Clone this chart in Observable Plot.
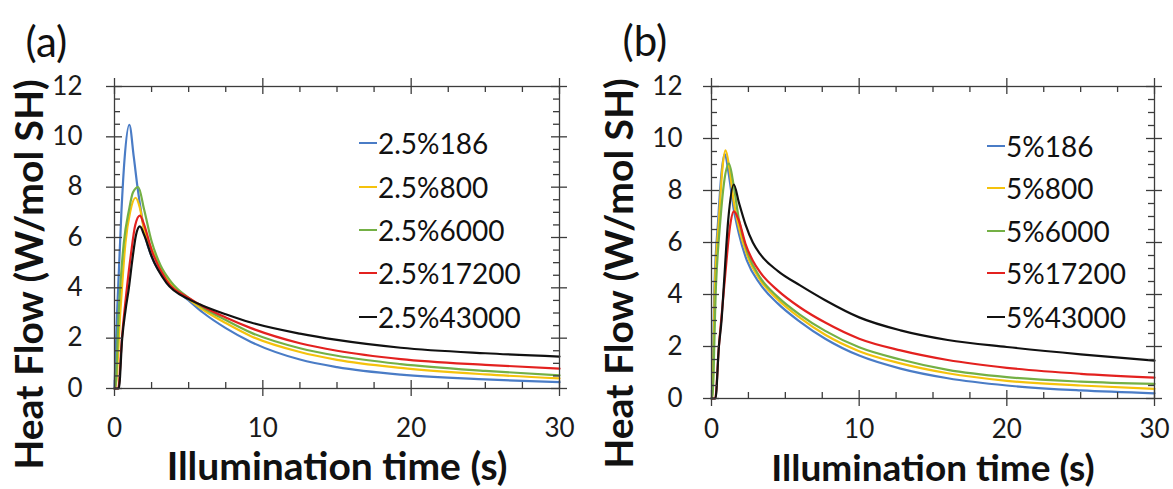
<!DOCTYPE html>
<html><head><meta charset="utf-8">
<script src="https://cdn.jsdelivr.net/npm/d3@7"></script>
<script src="https://cdn.jsdelivr.net/npm/@observablehq/plot@0.6"></script>
<style>
body{margin:0;background:#fff;}
#wrap{position:relative;width:1173px;height:489px;font-family:Lato,sans-serif;overflow:hidden;background:#fff}
.panel{position:absolute;top:0}
.row{position:absolute;white-space:nowrap;display:flex;align-items:center;font-size:28px;color:#111;line-height:28px;height:28px}
.sw{width:18px;height:2.2px;margin-right:1px}
</style></head><body><div id="wrap"></div>
<script>
// ---- data ----
const xMajor = [0, 10, 20, 30];
const xMinor = [2.5, 5, 7.5, 12.5, 15, 17.5, 22.5, 25, 27.5];
const yMajor = [0, 2, 4, 6, 8, 10, 12];
const yMinor = [0.5, 1, 1.5, 2.5, 3, 3.5, 4.5, 5, 5.5, 6.5, 7, 7.5, 8.5, 9, 9.5, 10.5, 11, 11.5];

const colors = ["#4a7cc6", "#f5c20c", "#74b045", "#e3211f", "#111111"];
const namesA = ["2.5%186", "2.5%800", "2.5%6000", "2.5%17200", "2.5%43000"];
const namesB = ["5%186", "5%800", "5%6000", "5%17200", "5%43000"];

// panel (a): [time s, heat flow]
const a186 = [[0,0],[0.18,3.1],[0.47,7.07],[0.67,9.06],[1.0,10.48],[1.3,9.2],[1.55,8.0],[1.8,7.0],[2.1,6.0],[2.5,5.25],[3.5,4.3],[5,3.5],[6,3.0],[7.5,2.4],[9.2,1.85],[12.5,1.15],[15,0.85],[19.3,0.55],[25,0.36],[30,0.25]];
const a800 = [[0,0],[0.05,0],[0.4,3.1],[0.74,5.8],[1.05,7.0],[1.42,7.58],[1.7,7.2],[2.0,6.3],[2.5,5.55],[3.5,4.4],[5,3.55],[6,3.12],[7.5,2.6],[9.2,2.08],[12.5,1.45],[15,1.14],[19.3,0.82],[25,0.56],[30,0.40]];
const a6000 = [[0,0],[0.05,0],[0.29,3.1],[0.63,5.8],[0.97,7.07],[1.25,7.8],[1.6,8.0],[2.0,7.1],[2.5,5.85],[3.1,4.9],[3.8,4.25],[5,3.6],[6,3.2],[7.5,2.72],[9.2,2.22],[12.5,1.6],[15,1.3],[19.3,0.97],[25,0.70],[30,0.52]];
const a17200 = [[0,0],[0.25,0],[0.5,2.0],[0.8,3.8],[1.1,5.3],[1.4,6.5],[1.71,6.87],[2.0,6.5],[2.5,5.5],[3.5,4.3],[5,3.6],[6,3.25],[7.5,2.82],[9.2,2.4],[12.5,1.8],[15,1.5],[19.3,1.17],[25,0.94],[30,0.79]];
const a43000 = [[0,0],[0.29,0],[0.52,2.0],[0.74,3.1],[0.97,4.0],[1.2,5.1],[1.45,6.1],[1.71,6.44],[2.0,6.1],[2.5,5.25],[3.5,4.2],[5,3.55],[6,3.28],[7.5,2.95],[9.2,2.62],[12.5,2.18],[15,1.93],[19.3,1.62],[25,1.40],[30,1.27]];

// panel (b)
const b186 = [[0,0],[0.03,0],[0.2,4.3],[0.45,6.85],[0.7,8.8],[0.9,9.4],[1.15,8.7],[1.5,7.3],[1.85,6.35],[2.4,5.3],[3.3,4.4],[4.5,3.65],[6,2.95],[7.7,2.3],[10,1.65],[12.8,1.15],[16,0.78],[20,0.5],[25,0.31],[30,0.2]];
const b800 = [[0,0],[0.05,0],[0.23,4.3],[0.5,6.85],[0.75,8.9],[0.95,9.54],[1.2,8.9],[1.5,7.6],[1.85,6.6],[2.42,5.5],[3.3,4.55],[4.5,3.8],[6,3.1],[7.7,2.45],[10,1.82],[12.8,1.35],[16,0.97],[20,0.68],[25,0.5],[30,0.37]];
const b6000 = [[0,0],[0.05,0],[0.3,4.3],[0.6,6.85],[0.85,8.3],[1.18,9.03],[1.5,8.2],[1.85,6.9],[2.42,5.65],[3.3,4.65],[4.5,3.9],[6,3.22],[7.7,2.6],[10,1.97],[12.8,1.5],[16,1.1],[20,0.82],[25,0.65],[30,0.56]];
const b17200 = [[0,0],[0.25,0],[0.5,2.0],[0.75,3.6],[1.0,5.2],[1.25,6.6],[1.51,7.2],[1.85,6.85],[2.3,5.95],[2.8,5.3],[3.3,4.85],[4.5,4.15],[6,3.5],[7.7,2.92],[10,2.3],[12.8,1.85],[16,1.48],[20,1.18],[25,0.95],[30,0.8]];
const b43000 = [[0,0],[0.27,0],[0.5,2.0],[0.68,3.0],[0.83,4.3],[1.13,6.85],[1.51,8.23],[1.85,7.55],[2.3,6.7],[2.8,6.0],[3.3,5.55],[4.5,4.9],[6,4.35],[7.7,3.78],[10,3.12],[12.8,2.62],[16,2.25],[20,1.98],[25,1.7],[30,1.46]];

const yTitle = "Heat Flow (W/mol SH)";
const xTitle = "Illumination time (s)";

// ---- drawing ----
function panel(cfg) {
  const pw = cfg.width - cfg.ml - cfg.mr, ph = cfg.height - cfg.mt - cfg.mb;
  const data = cfg.names.flatMap((n, i) => cfg.series[i].map(([t, v]) => ({name: n, t, v})));
  const ax = {stroke: "#3c3c3c", strokeWidth: 1.3};
  const tl = 6, tM = 8;
  return Plot.plot({
    width: cfg.width, height: cfg.height,
    marginLeft: cfg.ml, marginRight: cfg.mr, marginTop: cfg.mt, marginBottom: cfg.mb,
    style: {fontFamily: "Lato, sans-serif", color: "#1a1a1a", background: "white", overflow: "visible"},
    x: {domain: [0, 30]},
    y: {domain: [0, 12]},
    color: {domain: cfg.names, range: colors},
    marks: [
      Plot.axisY(yMajor, {tickSize: 0, tickPadding: cfg.yPad, fontSize: 26, label: null}),
      Plot.axisX(xMajor, {tickSize: 0, tickPadding: cfg.xPad, fontSize: 26, label: null}),
      Plot.line(data, {x: "t", y: "v", z: "name", stroke: "name", strokeWidth: 2.2, curve: "monotone-x"}),
      Plot.frame(ax),
      Plot.ruleX(xMinor, {x: d => d, insetTop: ph - tl, ...ax}),
      Plot.ruleX(xMinor, {x: d => d, insetBottom: ph - tl, ...ax}),
      Plot.ruleX(xMajor, {x: d => d, insetTop: ph - tM, insetBottom: -tM, ...ax}),
      Plot.ruleX(xMajor, {x: d => d, insetBottom: ph - tM, insetTop: -tM, ...ax}),
      Plot.ruleY(yMinor, {y: d => d, insetRight: pw - tl, ...ax}),
      Plot.ruleY(yMinor, {y: d => d, insetLeft: pw - tl, ...ax}),
      Plot.ruleY(yMajor, {y: d => d, insetRight: pw - tM, insetLeft: -tM, ...ax}),
      Plot.ruleY(yMajor, {y: d => d, insetLeft: pw - tM, insetRight: -tM, ...ax}),
      Plot.text([yTitle], {text: d => d, frameAnchor: "left", rotate: -90, dx: cfg.ytDx, dy: cfg.ytDy,
        textAnchor: "middle", lineAnchor: "middle", fontSize: 39, fontWeight: 700, fill: "#111"}),
      Plot.text([xTitle], {text: d => d, frameAnchor: "bottom", dy: cfg.xtDy,
        textAnchor: "middle", lineAnchor: "middle", fontSize: cfg.xtSize, fontWeight: 700, fill: "#111"}),
      Plot.text([cfg.tag], {text: d => d, frameAnchor: "top-left", dx: cfg.tagDx, dy: cfg.tagDy,
        textAnchor: "start", lineAnchor: "bottom", fontSize: 42, fill: "#111"})
    ]
  });
}

const wrap = document.getElementById("wrap");
function place(node, left) {
  node.classList.add("panel");
  node.style.left = left + "px";
  wrap.appendChild(node);
}
place(panel({width: 586, height: 489, ml: 114, mr: 27, mt: 86, mb: 101, yPad: 32, xPad: 30,
  names: namesA, series: [a186, a800, a6000, a17200, a43000],
  ytDx: -84, ytDy: 37, xtDy: 79, xtSize: 39, tag: "(a)", tagDx: -89, tagDy: -30}), 0);
place(panel({width: 587, height: 489, ml: 125, mr: 19, mt: 86, mb: 91, yPad: 29, xPad: 21,
  names: namesB, series: [b186, b800, b6000, b17200, b43000],
  ytDx: -91, ytDy: 31, xtDy: 71, xtSize: 37, tag: "(b)", tagDx: -89, tagDy: -31}), 586);

function legend(names, left, tops) {
  names.forEach((n, i) => {
    const row = document.createElement("div");
    row.className = "row";
    row.style.left = left + "px";
    row.style.top = (tops[i] - 14) + "px";
    const sw = document.createElement("span");
    sw.className = "sw";
    sw.style.background = colors[i];
    const tx = document.createElement("span");
    tx.textContent = n;
    row.appendChild(sw); row.appendChild(tx);
    wrap.appendChild(row);
  });
}
legend(namesA, 359, [143, 187, 230, 273, 317]);
legend(namesB, 987, [146, 188, 231, 273, 317]);
</script></body></html>
